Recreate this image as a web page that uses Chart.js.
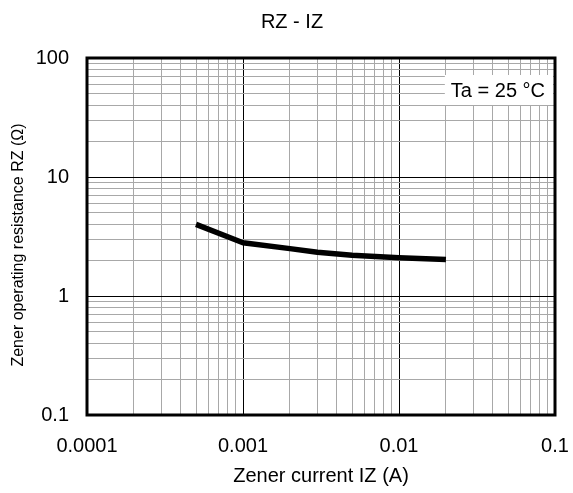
<!DOCTYPE html>
<html><head><meta charset="utf-8">
<script src="https://cdn.jsdelivr.net/npm/chart.js@4.4.1/dist/chart.umd.min.js"></script>
<style>html,body{margin:0;padding:0;background:#fff}</style>
</head><body><canvas id="c" width="573" height="493"></canvas>
<script>
// ---- data ----
const currentA = [0.0005, 0.001, 0.002, 0.003, 0.005, 0.01, 0.02];
const resistanceOhm = [4.0, 2.8, 2.5, 2.33, 2.2, 2.1, 2.03];
const xDecades = [0.0001, 0.001, 0.01, 0.1];
const yDecades = [0.1, 1, 10, 100];
const xTickLabels = ['0.0001', '0.001', '0.01', '0.1'];
const yTickLabels = ['0.1', '1', '10', '100'];
const minorSteps = [2, 3, 4, 5, 6, 7, 8, 9];
const chartTitle = 'RZ - IZ';
const xTitle = 'Zener current IZ (A)';
const yTitle = 'Zener operating resistance RZ (Ω)';
const noteText = 'Ta = 25 °C';

const FONT = '"Liberation Sans", Arial, Helvetica, sans-serif';

function buildTicks(decades) {
  const t = [];
  decades.forEach((d, i) => {
    t.push({ value: d, major: true });
    if (i < decades.length - 1) {
      minorSteps.forEach(m => t.push({ value: +(d * m).toPrecision(6), major: false }));
    }
  });
  return t;
}
function labelFor(value, decades, labels) {
  for (let i = 0; i < decades.length; i++) {
    if (Math.abs(value / decades[i] - 1) < 1e-6) return labels[i];
  }
  return '';
}

const decor = {
  id: 'decor',
  beforeDatasetsDraw(chart) {
    const { ctx, chartArea: a } = chart;
    ctx.save();
    ctx.font = '20px ' + FONT;
    const w = ctx.measureText(noteText).width + 14;
    const bx = a.right - 2 - w, by = a.top + 17, bh = 30;
    ctx.fillStyle = '#fff';
    ctx.fillRect(bx, by, w, bh);
    ctx.fillStyle = '#000';
    ctx.textAlign = 'left';
    ctx.textBaseline = 'middle';
    ctx.fillText(noteText, bx + 6, by + bh / 2 + 1);
    ctx.restore();
  },
  afterDatasetsDraw(chart) {
    const { ctx, chartArea: a } = chart;
    ctx.save();
    ctx.strokeStyle = '#000';
    ctx.lineWidth = 3;
    ctx.strokeRect(a.left, a.top, a.right - a.left, a.bottom - a.top);
    ctx.fillStyle = '#000';
    ctx.textAlign = 'center';
    ctx.textBaseline = 'middle';
    ctx.font = '20px ' + FONT;
    ctx.fillText(chartTitle, 292, 22);
    ctx.fillText(xTitle, (a.left + a.right) / 2, 476);
    ctx.font = '16px ' + FONT;
    ctx.translate(19, 245);
    ctx.rotate(-Math.PI / 2);
    ctx.fillText(yTitle, 0, 0);
    ctx.restore();
  }
};

new Chart(document.getElementById('c'), {
  type: 'line',
  data: {
    datasets: [{
      data: currentA.map((x, i) => ({ x: x, y: resistanceOhm[i] })),
      borderColor: '#000',
      borderWidth: 5.5,
      pointRadius: 0,
      tension: 0,
      fill: false,
      borderCapStyle: 'butt',
      borderJoinStyle: 'round'
    }]
  },
  options: {
    responsive: false,
    animation: false,
    layout: { padding: { top: 58, right: 18, left: 0, bottom: 0 } },
    plugins: { legend: { display: false }, title: { display: false }, tooltip: { enabled: false } },
    scales: {
      x: {
        type: 'logarithmic',
        min: xDecades[0], max: xDecades[xDecades.length - 1],
        afterBuildTicks(s) { s.ticks = buildTicks(xDecades); },
        afterFit(s) { s.height = 78; s.paddingLeft = 0; s.paddingRight = 0; },
        border: { display: false },
        grid: {
          drawTicks: false,
          color: c => (c.tick && c.tick.major) ? '#000' : '#a8a8a8',
          lineWidth: 1
        },
        ticks: {
          autoSkip: false, maxRotation: 0, padding: 19,
          color: '#000', font: { family: FONT, size: 20 },
          callback: v => labelFor(v, xDecades, xTickLabels)
        }
      },
      y: {
        type: 'logarithmic',
        min: yDecades[0], max: yDecades[yDecades.length - 1],
        afterBuildTicks(s) { s.ticks = buildTicks(yDecades); },
        afterFit(s) { s.width = 87; s.paddingTop = 0; s.paddingBottom = 0; },
        border: { display: false },
        grid: {
          drawTicks: false,
          color: c => (c.tick && c.tick.major) ? '#000' : '#a8a8a8',
          lineWidth: 1
        },
        ticks: {
          autoSkip: false, padding: 18,
          color: '#000', font: { family: FONT, size: 20 },
          callback: v => labelFor(v, yDecades, yTickLabels)
        }
      }
    }
  },
  plugins: [decor]
});
</script>
</body></html>
